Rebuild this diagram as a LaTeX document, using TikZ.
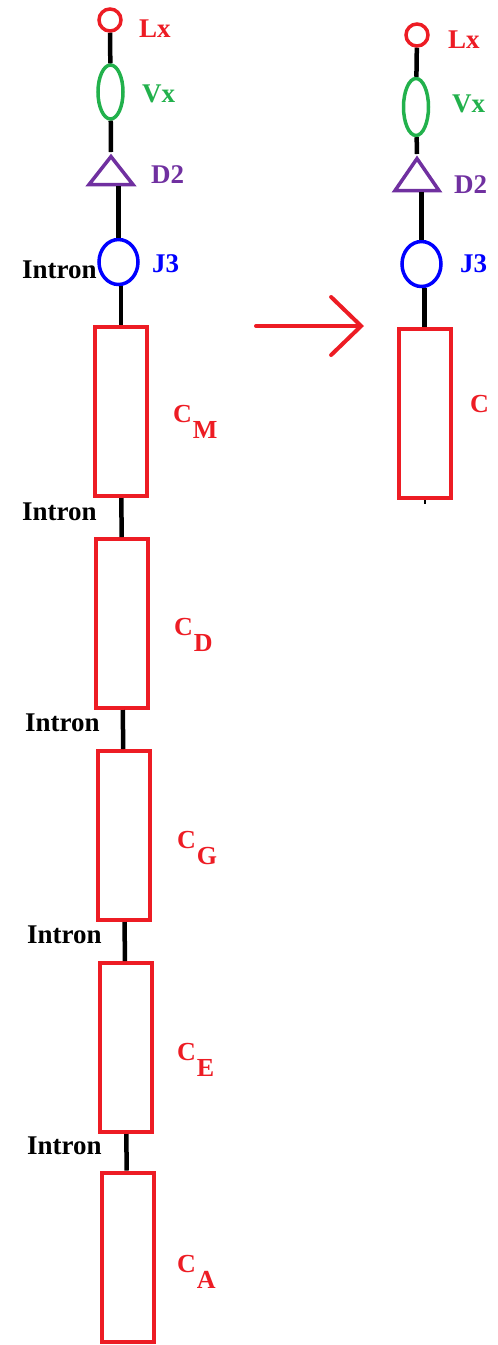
\documentclass[tikz,border=0pt]{standalone}
\usepackage{fontspec}
\setmainfont{Liberation Serif}
\usetikzlibrary{shapes.geometric, arrows.meta}
\definecolor{lred}{RGB}{237,28,36}
\definecolor{lgreen}{RGB}{34,177,76}
\definecolor{lpurple}{RGB}{112,48,160}
\definecolor{lblue}{RGB}{0,0,255}
\newcommand{\csub}[1]{C\kern1pt\raisebox{-0.65em}{#1}}
\begin{document}
\begin{tikzpicture}[x=1pt, y=-1pt,
    lbl/.style={anchor=base west, inner sep=0pt, font=\fontsize{27}{30}\selectfont\bfseries},
    clbl/.style={anchor=base west, inner sep=0pt, font=\fontsize{26}{30}\selectfont\bfseries, text=lred},
    lcirc/.style={circle, draw=lred, line width=3.5pt, minimum size=22pt, inner sep=0pt},
    vell/.style={ellipse, draw=lgreen, line width=3.5pt, minimum width=25pt, minimum height=54pt, inner sep=0pt},
    dtri/.style={isosceles triangle, isosceles triangle stretches, shape border rotate=90,
        draw=lpurple, line width=3.5pt, minimum width=44pt, minimum height=28pt, inner sep=0pt},
    jell/.style={ellipse, draw=lblue, line width=3.5pt, minimum width=39pt, minimum height=45pt, inner sep=0pt},
    cbox/.style={rectangle, draw=lred, line width=4pt, minimum width=52pt, minimum height=169pt, inner sep=0pt},
    link/.style={draw=black, line width=4.5pt}]
    % Khung ảnh
    \useasboundingbox (0,0) rectangle (498,1345);

    % 1. Cột bên trái: gen trước khi sắp xếp
    \node[lcirc] (lx1) at (110,20) {};
    \node[vell] (vx1) at (110.5,92) {};
    \node[dtri, anchor=apex] (dd1) at (111,152) {};
    \node[jell] (jj1) at (118.5,262) {};
    \node[cbox] (cm) at (121,411.5) {};
    \node[cbox] (cd) at (122,623.5) {};
    \node[cbox] (cg) at (124,835.5) {};
    \node[cbox] (ce) at (125.5,1047.5) {};
    \node[cbox] (ca) at (127.5,1257) {};

    \draw[link] (lx1) -- (vx1);
    \draw[link] (vx1) -- (dd1.apex);
    \draw[link] (dd1.lower side -| jj1.north) -- (jj1);
    \draw[link] (jj1.south -| cm.north) -- (cm.north);
    \draw[link] (cm) -- (cd);
    \draw[link] (cd) -- (cg);
    \draw[link] (cg) -- (ce);
    \draw[link] (ce) -- (ca);

    \node[lbl, text=lred] (tlx1) at (139,37) {Lx};
    \node[lbl, text=lgreen] (tvx1) at (142,102) {Vx};
    \node[lbl, text=lpurple] (tdd1) at (151,183) {D2};
    \node[lbl, text=lblue] (tjj1) at (152,272) {J3};

    \node[lbl] (in1) at (22,278) {Intron};
    \node[lbl] (in2) at (22,520) {Intron};
    \node[lbl] (in3) at (25,731) {Intron};
    \node[lbl] (in4) at (27,943) {Intron};
    \node[lbl] (in5) at (27,1154) {Intron};

    \node[clbl] (tcm) at (173,422) {\csub{M}};
    \node[clbl] (tcd) at (174,635) {\csub{D}};
    \node[clbl] (tcg) at (177,848) {\csub{G}};
    \node[clbl] (tce) at (177,1060) {\csub{E}};
    \node[clbl] (tca) at (177,1272) {\csub{A}};

    % 2. Mũi tên
    \coordinate (arrS) at (256,326);
    \coordinate (arrE) at (364,326);
    \draw[lred, line width=4pt, line cap=round,
        -{Straight Barb[length=30pt, width=58pt, line cap=round]}] (arrS) -- (arrE);

    % 3. Cột bên phải: gen sau khi sắp xếp
    \node[lcirc] (lx2) at (417,35) {};
    \node[vell, minimum height=57pt] (vx2) at (416,107) {};
    \node[dtri, anchor=apex, minimum height=32pt] (dd2) at (417,154) {};
    \node[jell] (jj2) at (421.5,264) {};
    \node[cbox] (cc) at (424.5,413.5) {};
    \coordinate (ccend) at (424.5,504);

    \draw[link] (lx2) -- (vx2);
    \draw[link] (vx2) -- (dd2.apex);
    \draw[link] (dd2.lower side -| jj2.north) -- (jj2);
    \draw[link] (jj2.south -| cc.north) -- (cc.north);
    \draw[black, line width=2pt] (cc.south) -- (ccend);

    \node[lbl, text=lred] (tlx2) at (448,48) {Lx};
    \node[lbl, text=lgreen] (tvx2) at (452,112) {Vx};
    \node[lbl, text=lpurple] (tdd2) at (454,193) {D2};
    \node[lbl, text=lblue] (tjj2) at (460,272) {J3};
    \node[clbl] (tcc) at (470,412) {C};

\end{tikzpicture}
\end{document}
